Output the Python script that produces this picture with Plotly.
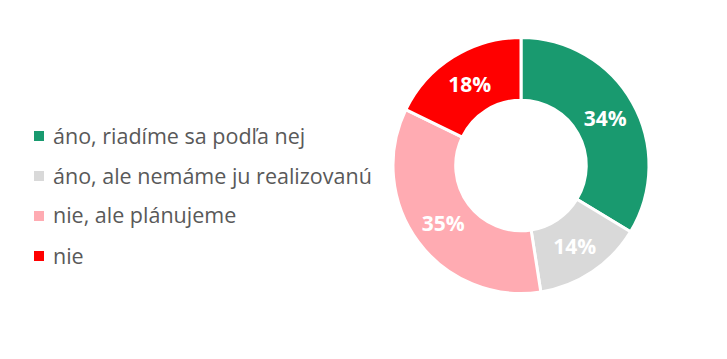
import plotly.graph_objects as go

labels = ["áno, riadíme sa podľa nej", "áno, ale nemáme ju realizovanú", "nie, ale plánujeme", "nie"]
values = [34, 14, 35, 18]
colors = ["#199A6F", "#D9D9D9", "#FFABB2", "#FF0000"]

W, H = 727, 359
fig = go.Figure()
fig.add_trace(go.Pie(
    labels=labels, values=values, sort=False, direction="clockwise", rotation=0,
    hole=0.51,
    marker=dict(colors=colors, line=dict(color="white", width=3)),
    texttemplate="%{value}%", textposition="inside", insidetextorientation="horizontal",
    textfont=dict(family="Open Sans", size=21, color="white", weight="bold"),
    domain=dict(x=[393 / W, 649 / W], y=[1 - 293.5 / H, 1 - 37.5 / H]),
    showlegend=False, hoverinfo="label+value",
))

# manual legend
row_y = [136, 176, 216, 256]
for lab, col, yy in zip(labels, colors, row_y):
    fig.add_shape(type="rect", xref="paper", yref="paper",
                  x0=34 / W, x1=44 / W, y0=1 - (yy + 5) / H, y1=1 - (yy - 5) / H,
                  fillcolor=col, line=dict(width=0))
    fig.add_annotation(x=51 / W, y=1 - (yy - 1) / H, xref="paper", yref="paper",
                       xanchor="left", yanchor="middle", text=lab, showarrow=False,
                       font=dict(family="Open Sans", size=21.5, color="#595959"))

fig.update_layout(width=W, height=H, margin=dict(l=0, r=0, t=0, b=0),
                  paper_bgcolor="white", plot_bgcolor="white")
fig.write_html("out.html")
